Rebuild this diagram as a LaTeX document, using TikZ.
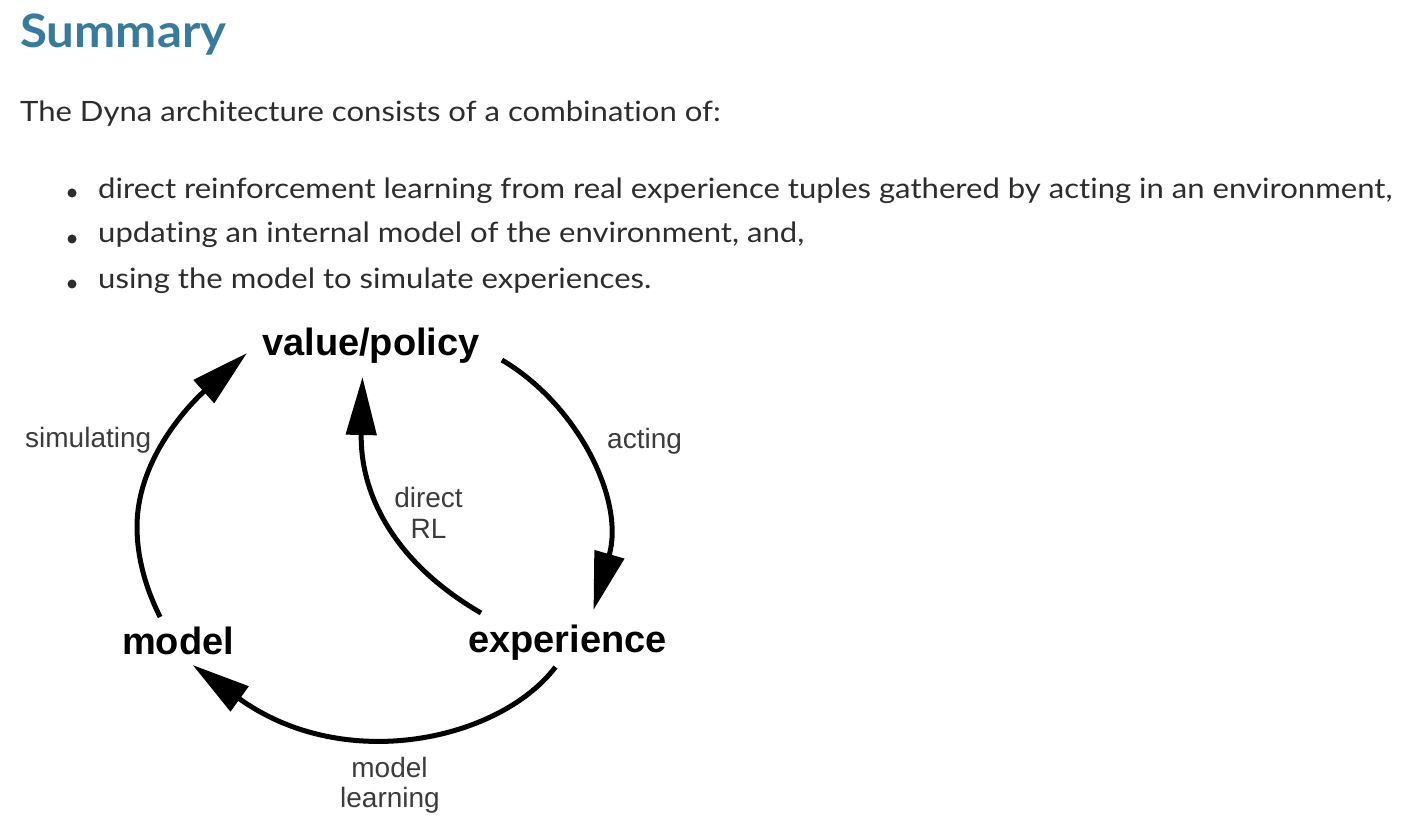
\documentclass[tikz,border=0pt]{standalone}
\usepackage{fontspec}
\setmainfont{Lato}[FakeStretch=1.11, Ligatures=CommonOff]
\newfontfamily\titlefont{Lato}[FakeStretch=1.07, Ligatures=CommonOff]
\newfontfamily\diagfont{Liberation Sans}
\usetikzlibrary{arrows.meta,calc}
\definecolor{titleblue}{RGB}{56,122,156}
\definecolor{bodytext}{RGB}{45,45,45}
\definecolor{labelgray}{RGB}{60,60,60}
\begin{document}
\begin{tikzpicture}[x=1pt,y=-1pt,
  titletext/.style={anchor=base west, inner sep=0pt, text=titleblue, font=\titlefont\fontsize{46}{50}\selectfont\bfseries},
  bodyline/.style={anchor=base west, inner sep=0pt, text=bodytext, font=\fontsize{28}{34}\selectfont},
  bulletdot/.style={fill=bodytext},
  biglabel/.style={anchor=base west, inner sep=0pt, text=black, font=\diagfont\fontsize{38}{40}\selectfont\bfseries},
  smalllabel/.style={anchor=base, inner sep=0pt, text=labelgray, font=\diagfont\fontsize{28}{30}\selectfont},
  flow/.style={draw=black, line width=5pt, -{Triangle[length=58pt,width=30pt]}}
]
\fill[white] (0,0) rectangle (1424,826);
\useasboundingbox (0,0) rectangle (1424,826);

% header text
\node[titletext] (title) at (20,48) {Summary};
\node[bodyline] (intro) at (20,122) {The Dyna architecture consists of a combination of:};
\fill[bulletdot] (72,193) circle (4.5);
\fill[bulletdot] (72,239) circle (4.5);
\fill[bulletdot] (72,284) circle (4.5);
\node[bodyline] (b1) at (98,199) {direct reinforcement learning from real experience tuples gathered by acting in an environment,};
\node[bodyline] (b2) at (98,243) {updating an internal model of the environment, and,};
\node[bodyline] (b3) at (98,289) {using the model to simulate experiences.};

% diagram nodes
\node[biglabel] (vp) at (262,355) {value/policy};
\node[biglabel] (model) at (122,654) {model};
\node[biglabel] (exp) at (468,652) {experience};

% edge labels
\node[smalllabel, anchor=base west] (lsim) at (25,447) {simulating};
\node[smalllabel, anchor=base west] (lact) at (607,448) {acting};
\node[smalllabel] (ldir1) at (428.5,507) {direct};
\node[smalllabel] (ldir2) at (428.5,538) {RL};
\node[smalllabel] (lml1) at (389.5,777) {model};
\node[smalllabel] (lml2) at (390,807) {learning};

% connectors
\draw[flow] ($(model.base)+(-18,-37)$) .. controls (145,587) and (137,556) .. (137,527)
   .. controls (137,452) and (200,395) .. ($(vp.base west)+(-15,-2)$);
\draw[flow] ($(vp.base east)+(22,5)$) .. controls (578,405) and (625,500) .. ($(exp.base)+(26,-42)$);
\draw[flow] ($(exp.base west)+(13,-39)$) .. controls (390,560) and (360,490) .. ($(vp.base)+(-8.5,22)$);
\draw[flow] ($(exp.base)+(-12,15)$) .. controls (500,740) and (345,775) .. ($(model.base)+(14.5,11)$);
\end{tikzpicture}
\end{document}
